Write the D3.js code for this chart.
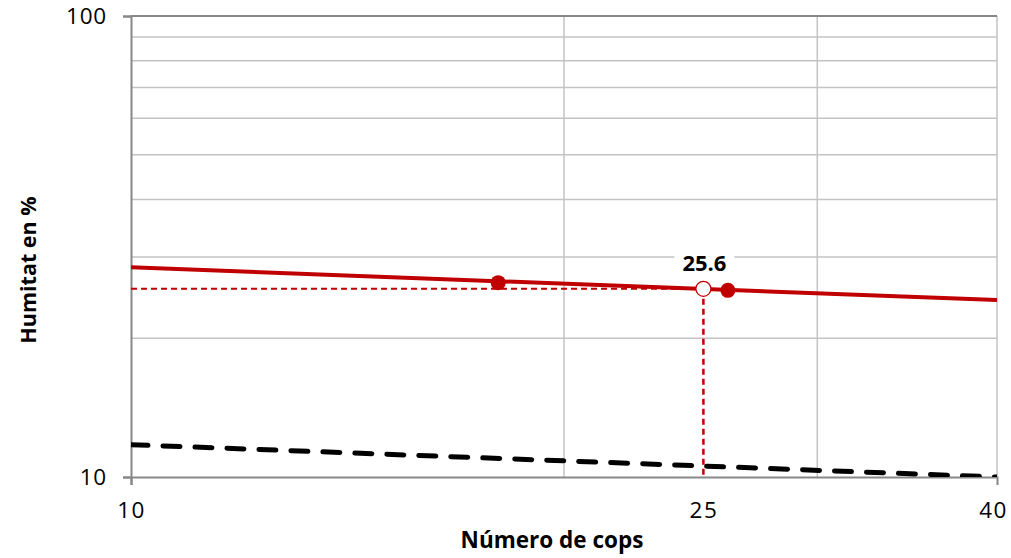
<!DOCTYPE html>
<html>
<head>
<meta charset="utf-8">
<script src="https://cdn.jsdelivr.net/npm/d3@7"></script>
<style>
  html, body { margin: 0; padding: 0; background: #fff; }
  svg { display: block; font-family: "Open Sans", Lato, sans-serif; }
</style>
</head>
<body>
<svg id="chart" width="1011" height="558"></svg>
<script>
// Number of blows (log) vs. moisture content (log)
const xTickValues = [10, 25, 40];
const yTickValues = [10, 100];
const xGridValues = [20, 30, 40];
const yGridValues = [20, 30, 40, 50, 60, 70, 80, 90];

// Flow line (solid red)
const flowBlows = [10, 40];
const flowMoisture = [28.5, 24.2];

// Test points
const testBlows = [18, 26];
const testMoisture = [26.4, 25.4];

// Lower dashed reference line
const refBlows = [10, 40];
const refMoisture = [11.75, 10.0];

// Liquid limit at 25 blows
const llBlows = 25;
const llMoisture = 25.6;

const width = 1011, height = 558;
const margin = { top: 16, right: 14, bottom: 81, left: 131 };
const svg = d3.select("#chart");
const fontSize = 22.5;

const x = d3.scaleLog().domain([10, 40]).range([margin.left, width - margin.right]);
const y = d3.scaleLog().domain([10, 100]).range([height - margin.bottom, margin.top]);

const gridColor = "#c3c3c3";
const axisColor = "#878787";
const red = "#c00000";

svg.append("defs").append("clipPath").attr("id", "plot")
  .append("rect")
  .attr("x", margin.left).attr("y", margin.top)
  .attr("width", width - margin.left - margin.right)
  .attr("height", height - margin.top - margin.bottom);

// Gridlines
svg.append("g").selectAll("line").data(yGridValues).join("line")
  .attr("x1", margin.left).attr("x2", width - margin.right)
  .attr("y1", d => y(d)).attr("y2", d => y(d))
  .attr("stroke", gridColor).attr("stroke-width", 1.5);

svg.append("g").selectAll("line").data(xGridValues).join("line")
  .attr("x1", d => x(d)).attr("x2", d => x(d))
  .attr("y1", margin.top).attr("y2", height - margin.bottom)
  .attr("stroke", gridColor).attr("stroke-width", 1.5);

// Top border
svg.append("line")
  .attr("x1", margin.left).attr("x2", width - margin.right)
  .attr("y1", y(100)).attr("y2", y(100))
  .attr("stroke", axisColor).attr("stroke-width", 2);

// Axes
const xAxis = d3.axisBottom(x).tickValues(xTickValues).tickFormat(d3.format("d"))
  .tickSize(8).tickPadding(17);
const gx = svg.append("g").attr("transform", `translate(0,${height - margin.bottom})`).call(xAxis);
gx.attr("font-family", null);
gx.select(".domain").attr("stroke", axisColor).attr("stroke-width", 2);
gx.selectAll(".tick line").attr("stroke", axisColor).attr("stroke-width", 2)
  .attr("opacity", (d, i) => i === 0 ? 1 : 0);
gx.selectAll(".tick text").attr("font-size", fontSize).attr("fill", "#000").attr("letter-spacing", 1.5);
gx.selectAll(".tick text").filter(d => d === 40).attr("dx", -4);

const yAxis = d3.axisLeft(y).tickValues(yTickValues).tickFormat(d3.format("d"))
  .tickSize(8).tickPadding(16);
const gy = svg.append("g").attr("transform", `translate(${margin.left},0)`).call(yAxis);
gy.attr("font-family", null);
gy.select(".domain").attr("stroke", axisColor).attr("stroke-width", 2);
gy.selectAll(".tick line").attr("stroke", axisColor).attr("stroke-width", 2);
gy.selectAll(".tick text").attr("font-size", fontSize).attr("fill", "#000").attr("letter-spacing", 0.8);

// Lines
const logLine = d3.line().x(d => x(d[0])).y(d => y(d[1]));
const plot = svg.append("g").attr("clip-path", "url(#plot)");

plot.append("path")
  .datum(refBlows.map((b, i) => [b, refMoisture[i]]))
  .attr("d", logLine).attr("fill", "none")
  .attr("stroke", "#000").attr("stroke-width", 5)
  .attr("stroke-dasharray", "17 15").attr("stroke-linecap", "round");

// Liquid limit guide lines
plot.append("line")
  .attr("x1", margin.left).attr("x2", x(llBlows))
  .attr("y1", y(llMoisture)).attr("y2", y(llMoisture))
  .attr("stroke", red).attr("stroke-width", 2).attr("stroke-dasharray", "6 4");
plot.append("line")
  .attr("x1", x(llBlows)).attr("x2", x(llBlows))
  .attr("y1", y(llMoisture)).attr("y2", height - margin.bottom)
  .attr("stroke", red).attr("stroke-width", 2.5).attr("stroke-dasharray", "6 4");

plot.append("path")
  .datum(flowBlows.map((b, i) => [b, flowMoisture[i]]))
  .attr("d", logLine).attr("fill", "none")
  .attr("stroke", red).attr("stroke-width", 4);

// Test points
plot.selectAll(".pt").data(testBlows.map((b, i) => [b, testMoisture[i]])).join("circle")
  .attr("class", "pt")
  .attr("cx", d => x(d[0])).attr("cy", d => y(d[1])).attr("r", 7.5)
  .attr("fill", red);

// Liquid limit marker
plot.append("circle")
  .attr("cx", x(llBlows)).attr("cy", y(llMoisture)).attr("r", 7.5)
  .attr("fill", "#fff").attr("stroke", red).attr("stroke-width", 1.2);

// Value label
const labelX = x(llBlows) + 1, labelY = y(llMoisture) - 18;
svg.append("rect")
  .attr("x", labelX - 30).attr("y", labelY - 20).attr("width", 60).attr("height", 26)
  .attr("fill", "#fff");
svg.append("text")
  .attr("x", labelX).attr("y", labelY)
  .attr("text-anchor", "middle").attr("font-size", fontSize - 0.5).attr("font-weight", "bold")
  .text(d3.format(".1f")(llMoisture));

// Axis titles
svg.append("text")
  .attr("x", 552).attr("y", 548)
  .attr("text-anchor", "middle").attr("font-size", fontSize).attr("font-weight", "bold")
  .text("Número de cops");

svg.append("text")
  .attr("transform", `translate(36,270) rotate(-90)`)
  .attr("text-anchor", "middle").attr("font-size", fontSize - 1).attr("font-weight", "bold")
  .text("Humitat en %");
</script>
</body>
</html>
